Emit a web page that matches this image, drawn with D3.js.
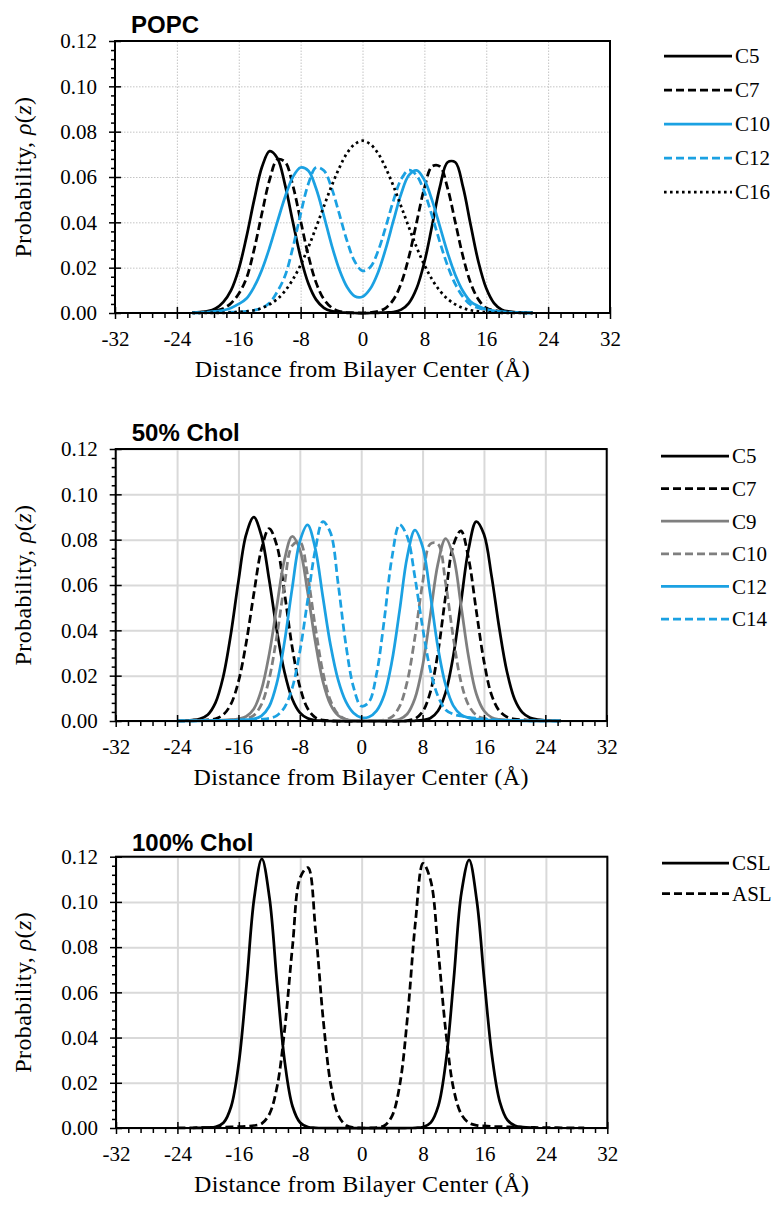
<!DOCTYPE html>
<html>
<head>
<meta charset="utf-8">
<script src="https://cdn.jsdelivr.net/npm/d3@7"></script>
<style>
  body { margin: 0; background: #fff; }
  svg { display: block; }
</style>
</head>
<body>
<script>

const xTicks = [-32, -24, -16, -8, 0, 8, 16, 24, 32];
const yTicks = [0, 0.02, 0.04, 0.06, 0.08, 0.10, 0.12];

// POPC panel
const xPopc = [-22,-21,-20,-19,-18,-17,-16,-15,-14,-13,-12,-11,-10,-9,-8,-7,-6,-5,-4,-3,-2,-1,
  0,1,2,3,4,5,6,7,8,9,10,11,12,13,14,15,16,17,18,19,20,21,22];
const popcC5 = [.0002,.0004,.0008,.0020,.0048,.0100,.0194,.0336,.0500,.0644,.0714,.0683,.0563,.0401,.0246,.0130,.0059,.0023,.0008,.0003,.0001,0,
  0,0,.0001,.0002,.0004,.0015,.0044,.0109,.0224,.0386,.0555,.0665,.0665,.0555,.0386,.0224,.0109,.0044,.0015,.0006,.0003,.0002,.0001];
const popcC7 = [.0002,.0003,.0005,.0010,.0020,.0043,.0085,.0154,.0282,.0440,.0589,.0677,.0666,.0562,.0407,.0253,.0134,.0061,.0024,.0008,.0002,.0001,
  0,.0002,.0007,.0022,.0059,.0131,.0248,.0400,.0551,.0647,.0647,.0551,.0400,.0248,.0131,.0059,.0022,.0012,.0006,.0004,.0002,.0001,.0001];
const popcC10 = [.0001,.0002,.0004,.0007,.0012,.0022,.0040,.0064,.0116,.0191,.0290,.0403,.0513,.0600,.0642,.0628,.0549,.0430,.0301,.0192,.0115,.0074,
  .0072,.0107,.0178,.0283,.0407,.0526,.0608,.0629,.0587,.0497,.0382,.0266,.0168,.0096,.0050,.0030,.0016,.0009,.0005,.0003,.0002,.0001,.0001];
const popcC12 = [.0001,.0001,.0002,.0002,.0003,.0004,.0005,.0007,.0012,.0022,.0045,.0095,.0165,.0289,.0437,.0570,.0642,.0629,.0552,.0437,.0318,.0227,
  .0186,.0202,.0272,.0379,.0496,.0590,.0630,.0607,.0534,.0428,.0313,.0209,.0127,.0071,.0036,.0022,.0013,.0008,.0005,.0003,.0002,.0001,.0001];
const popcC16 = [0,0,.0001,.0001,.0001,.0002,.0004,.0007,.0012,.0022,.0038,.0062,.0098,.0148,.0212,.0290,.0378,.0470,.0560,.0640,.0705,.0745,
  .0760,.0745,.0705,.0640,.0560,.0470,.0378,.0290,.0212,.0148,.0098,.0062,.0038,.0022,.0012,.0007,.0004,.0002,.0001,.0001,.0001,0,0];

// 50% Chol panel
const xChol50 = [-24,-23,-22,-21,-20,-19,-18,-17,-16,-15,-14,-13,-12,-11,-10,-9,-8,-7,-6,-5,-4,-3,-2,-1,
  0,1,2,3,4,5,6,7,8,9,10,11,12,13,14,15,16,17,18,19,20,21,22,23,24,25,26];
const chol50C5 = [.0001,.0002,.0004,.0010,.0028,.0080,.0193,.0381,.0617,.0822,.0899,.0817,.0624,.0401,.0216,.0098,.0037,.0012,.0003,.0001,0,0,0,0,
  0,0,0,0,0,0,0,.0001,.0004,.0012,.0044,.0125,.0286,.0522,.0759,.0880,.0824,.0638,.0409,.0217,.0096,.0038,.0014,.0006,.0003,.0002,.0001];
const chol50C7 = [0,.0001,.0002,.0003,.0005,.0010,.0027,.0073,.0174,.0343,.0560,.0758,.0849,.0775,.0565,.0327,.0152,.0056,.0016,.0004,.0001,0,0,0,
  0,0,0,0,0,0,.0002,.0010,.0041,.0126,.0301,.0551,.0775,.0839,.0716,.0487,.0264,.0114,.0045,.0018,.0008,.0005,.0004,.0003,.0002,.0002,.0001];
const chol50C9 = [.0001,.0001,.0001,.0002,.0002,.0003,.0004,.0006,.0010,.0020,.0053,.0138,.0293,.0506,.0712,.0814,.0757,.0573,.0353,.0176,.0072,.0024,.0006,.0002,
  0,0,0,0,.0001,.0008,.0031,.0099,.0243,.0465,.0693,.0805,.0728,.0513,.0282,.0120,.0045,.0016,.0007,.0004,.0003,.0002,.0002,.0001,.0001,.0001,0];
const chol50C10 = [.0001,.0001,.0001,.0002,.0002,.0002,.0003,.0004,.0006,.0010,.0025,.0073,.0185,.0374,.0602,.0773,.0791,.0645,.0419,.0217,.0090,.0029,.0008,.0002,
  0,0,.0001,.0004,.0018,.0064,.0174,.0369,.0609,.0781,.0781,.0609,.0369,.0174,.0070,.0026,.0012,.0007,.0004,.0003,.0002,.0002,.0001,.0001,.0001,0,0];
const chol50C12 = [.0001,.0001,.0001,.0001,.0002,.0002,.0002,.0003,.0004,.0006,.0009,.0023,.0064,.0167,.0348,.0585,.0792,.0865,.0763,.0548,.0335,.0180,.0085,.0035,
  .0015,.0018,.0045,.0115,.0262,.0486,.0725,.0842,.0769,.0560,.0325,.0160,.0068,.0028,.0014,.0008,.0005,.0004,.0003,.0002,.0002,.0001,.0001,.0001,.0001,0,0];
const chol50C14 = [.0001,.0001,.0001,.0001,.0002,.0002,.0003,.0003,.0004,.0005,.0006,.0008,.0012,.0024,.0060,.0144,.0305,.0528,.0752,.0880,.0830,.0604,.0338,.0149,
  .0066,.0083,.0208,.0445,.0719,.0866,.0813,.0635,.0414,.0226,.0110,.0050,.0030,.0022,.0016,.0012,.0009,.0006,.0004,.0003,.0002,.0002,.0001,.0001,.0001,.0001,0];

// 100% Chol panel
const xChol100 = [-24,-23,-22,-21,-20,-19,-18,-17,-16,-15,-14,-13,-12,-11,-10,-9,-8,-7,-6,-5,-4,-3,-2,-1,
  0,1,2,3,4,5,6,7,8,9,10,11,12,13,14,15,16,17,18,19,20,21,22,23,24,25,26,27,28,29];
const chol100CSL = [null,null,0,.0001,.0002,.0005,.0023,.0095,.0288,.0633,.1016,.1190,.1016,.0633,.0288,.0095,.0023,.0004,.0001,0,0,0,0,0,
  0,0,0,0,0,0,0,.0001,.0004,.0024,.0099,.0301,.0659,.1041,.1186,.1005,.0645,.0314,.0116,.0035,.0010,.0004,.0002,null,null,null,null,null,null,null];
const chol100ASL = [.0001,.0001,.0001,.0002,.0002,.0003,.0004,.0005,.0006,.0008,.0011,.0020,.0063,.0186,.0445,.0806,.1108,.1152,.0873,.0477,.0188,.0053,.0011,.0002,
  0,0,.0002,.0011,.0056,.0198,.0502,.0908,.1170,.1093,.0774,.0415,.0169,.0060,.0022,.0012,.0009,.0007,.0006,.0005,.0004,.0003,.0003,.0002,.0002,.0002,.0001,.0001,.0001,.0001];

const w = 778;
const h = 1205;
const blue = "#1ba1e2";
const gray = "#7f7f7f";
const dashes = { solid: null, dash: "8,4", dot: "2.6,3.4" };
const serif = "'Liberation Serif', 'Times New Roman', serif";
const sans = "'Liberation Sans', Arial, sans-serif";

const panels = [
  {
    title: "POPC", titleY: 33, left: 115, right: 610, top: 41, bottom: 313, gridDots: true,
    x: xPopc,
    series: [
      { name: "C5", y: popcC5, color: "#000", dash: "solid" },
      { name: "C7", y: popcC7, color: "#000", dash: "dash" },
      { name: "C10", y: popcC10, color: blue, dash: "solid" },
      { name: "C12", y: popcC12, color: blue, dash: "dash" },
      { name: "C16", y: popcC16, color: "#000", dash: "dot" }
    ],
    legend: { x1: 664, x2: 732, y0: 56, step: 34 }
  },
  {
    title: "50% Chol", titleY: 441, left: 115.7, right: 606.7, top: 449, bottom: 721, gridDots: false,
    x: xChol50,
    series: [
      { name: "C5", y: chol50C5, color: "#000", dash: "solid" },
      { name: "C7", y: chol50C7, color: "#000", dash: "dash" },
      { name: "C9", y: chol50C9, color: gray, dash: "solid" },
      { name: "C10", y: chol50C10, color: gray, dash: "dash" },
      { name: "C12", y: chol50C12, color: blue, dash: "solid" },
      { name: "C14", y: chol50C14, color: blue, dash: "dash" }
    ],
    legend: { x1: 661, x2: 729, y0: 456, step: 32.6 }
  },
  {
    title: "100% Chol", titleY: 851, left: 116, right: 607.3, top: 856.7, bottom: 1128, gridDots: false,
    x: xChol100,
    series: [
      { name: "CSL", y: chol100CSL, color: "#000", dash: "solid" },
      { name: "ASL", y: chol100ASL, color: "#000", dash: "dash" }
    ],
    legend: { x1: 662, x2: 729, y0: 863, step: 30.6 }
  }
];

const svg = d3.select("body")
  .append("svg")
  .attr("width", w)
  .attr("height", h);

panels.forEach(p => {
  const g = svg.append("g");
  const ph = p.bottom - p.top;
  const pw = p.right - p.left;

  const x = d3.scaleLinear().domain([-32, 32]).range([p.left, p.right]);
  const y = d3.scaleLinear().domain([0, 0.12]).range([p.bottom, p.top]);

  // gridlines
  const gridStyle = sel => {
    sel.select(".domain").remove();
    sel.selectAll("line")
      .attr("stroke", p.gridDots ? "#c4c4c4" : "#d9d9d9")
      .attr("stroke-width", p.gridDots ? 1 : 2)
      .attr("stroke-dasharray", p.gridDots ? "1.5,1.5" : null);
  };
  g.append("g")
    .attr("transform", `translate(0,${p.bottom})`)
    .call(d3.axisBottom(x).tickValues(xTicks).tickSize(-ph).tickFormat(""))
    .call(gridStyle);
  g.append("g")
    .attr("transform", `translate(${p.left},0)`)
    .call(d3.axisLeft(y).tickValues(yTicks).tickSize(-pw).tickFormat(""))
    .call(gridStyle);

  // curves
  p.series.forEach(s => {
    const pts = p.x.map((xv, i) => [xv, s.y[i]]);
    const line = d3.line()
      .defined(d => d[1] !== null)
      .x(d => x(d[0]))
      .y(d => y(d[1]))
      .curve(d3.curveCatmullRom);
    g.append("path")
      .datum(pts)
      .attr("fill", "none")
      .attr("stroke", s.color)
      .attr("stroke-width", 2.75)
      .attr("stroke-dasharray", dashes[s.dash])
      .attr("d", line);
  });

  // frame
  g.append("rect")
    .attr("x", p.left).attr("y", p.top)
    .attr("width", pw).attr("height", ph)
    .attr("fill", "none")
    .attr("stroke", "#000")
    .attr("stroke-width", 2);

  // minor ticks
  const xMinor = d3.range(-32, 32.01, 1.6).filter(v => Math.abs(v / 8 - Math.round(v / 8)) > 0.01);
  const yMinor = d3.range(0, 0.1201, 0.004).filter(v => Math.abs(v / 0.02 - Math.round(v / 0.02)) > 0.01);
  g.append("g")
    .attr("transform", `translate(0,${p.bottom})`)
    .call(d3.axisBottom(x).tickValues(xMinor).tickSize(5).tickFormat(""))
    .call(a => a.select(".domain").remove())
    .selectAll("line").attr("stroke", "#000").attr("stroke-width", 1.5);
  g.append("g")
    .attr("transform", `translate(${p.left},0)`)
    .call(d3.axisLeft(y).tickValues(yMinor).tickSize(4).tickFormat(""))
    .call(a => a.select(".domain").remove())
    .selectAll("line").attr("stroke", "#000").attr("stroke-width", 1.5);

  // major ticks and labels
  const xAxis = g.append("g")
    .attr("transform", `translate(0,${p.bottom})`)
    .call(d3.axisBottom(x).tickValues(xTicks).tickSize(6).tickPadding(12).tickFormat(d3.format("d")));
  xAxis.select(".domain").remove();
  xAxis.selectAll("line").attr("y1", -6).attr("stroke", "#000").attr("stroke-width", 1.5);
  xAxis.selectAll("text").attr("font-family", serif).attr("font-size", 21).attr("fill", "#000")
    .text(d => d < 0 ? "-" + Math.abs(d) : d);

  const yAxis = g.append("g")
    .attr("transform", `translate(${p.left},0)`)
    .call(d3.axisLeft(y).tickValues(yTicks).tickSize(6).tickPadding(12).tickFormat(d3.format(".2f")));
  yAxis.select(".domain").remove();
  yAxis.selectAll("line").attr("x1", 6).attr("stroke", "#000").attr("stroke-width", 1.5);
  yAxis.selectAll("text").attr("font-family", serif).attr("font-size", 21).attr("fill", "#000");

  // titles
  g.append("text")
    .attr("x", p.left + 16)
    .attr("y", p.titleY)
    .attr("font-family", sans)
    .attr("font-weight", "bold")
    .attr("font-size", 24)
    .text(p.title);

  g.append("text")
    .attr("x", (p.left + p.right) / 2)
    .attr("y", p.bottom + 64)
    .attr("text-anchor", "middle")
    .attr("font-family", serif)
    .attr("font-size", 24)
    .attr("letter-spacing", 0.4)
    .text("Distance from Bilayer Center (Å)");

  const yl = g.append("text")
    .attr("transform", `translate(31,${(p.top + p.bottom) / 2}) rotate(-90)`)
    .attr("text-anchor", "middle")
    .attr("font-family", serif)
    .attr("font-size", 24)
    .attr("letter-spacing", 0.4);
  yl.append("tspan").text("Probability, ");
  yl.append("tspan").attr("font-style", "italic").text("ρ");
  yl.append("tspan").text("(");
  yl.append("tspan").attr("font-style", "italic").text("z");
  yl.append("tspan").text(")");

  // legend
  const lg = g.append("g");
  p.series.forEach((s, i) => {
    const ly = p.legend.y0 + i * p.legend.step;
    lg.append("line")
      .attr("x1", p.legend.x1).attr("x2", p.legend.x2)
      .attr("y1", ly).attr("y2", ly)
      .attr("stroke", s.color)
      .attr("stroke-width", 2.75)
      .attr("stroke-dasharray", dashes[s.dash]);
    lg.append("text")
      .attr("x", p.legend.x2 + 3)
      .attr("y", ly)
      .attr("dy", "0.35em")
      .attr("font-family", serif)
      .attr("font-size", 21)
      .text(s.name);
  });
});
</script>
</body>
</html>
